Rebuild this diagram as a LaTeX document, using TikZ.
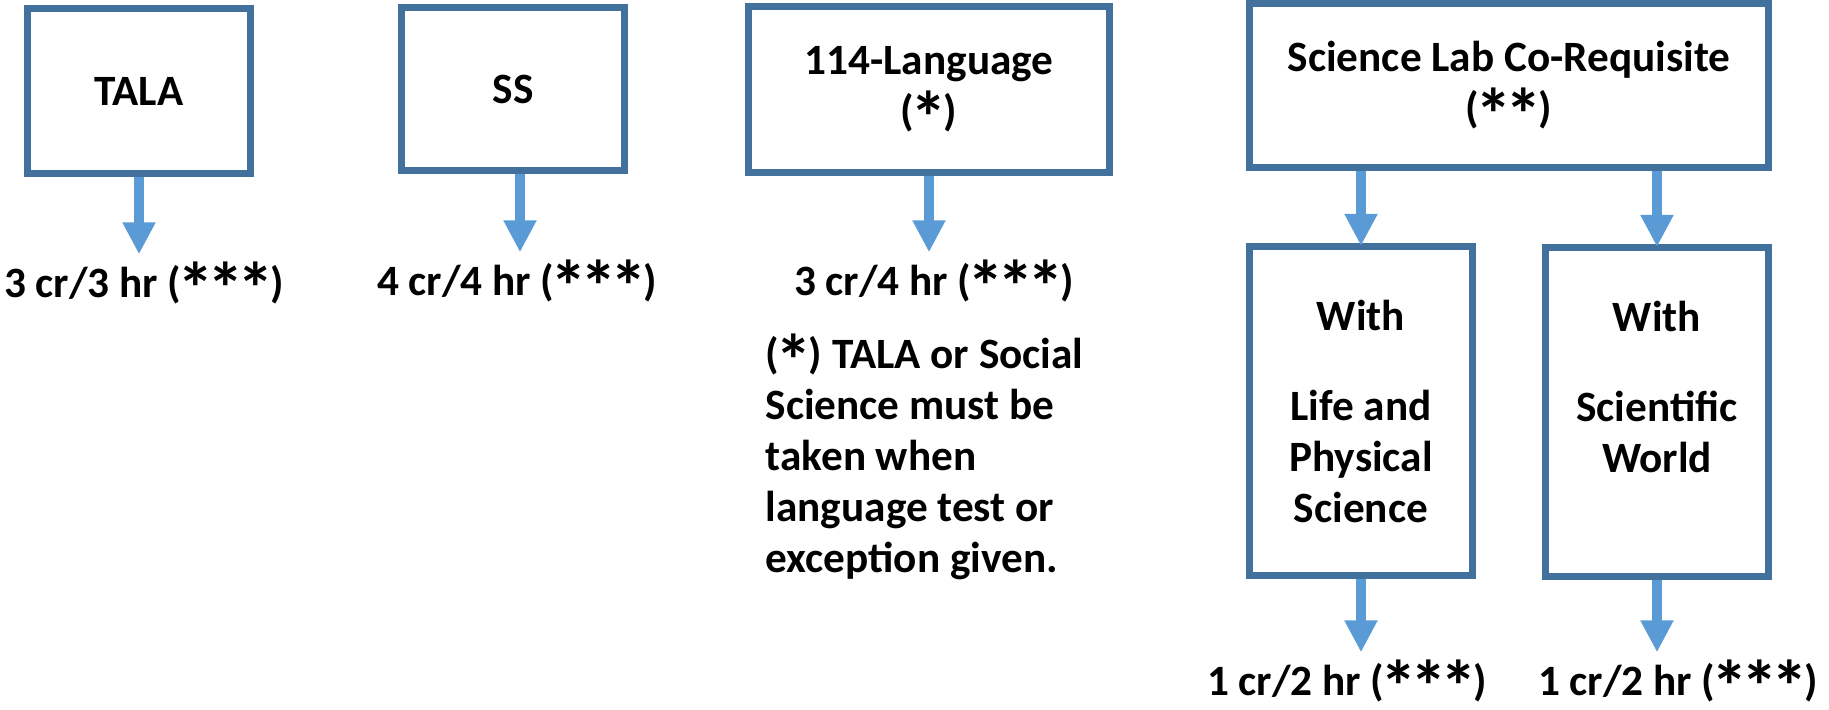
\documentclass[tikz,border=0pt]{standalone}
\usepackage{fontspec}
\usepackage{graphicx}
\setmainfont{Carlito}
\usetikzlibrary{positioning}
\usetikzlibrary{arrows.meta}
\definecolor{boxblue}{HTML}{41719C}
\definecolor{flowblue}{HTML}{5B9BD5}
\newcommand{\labstar}{\kern-0.08em\raisebox{-0.4em}[0.5em][0pt]{\scalebox{1.7}{*}}\kern-0.08em}

\begin{document}
\begin{tikzpicture}[x=0.01cm,y=-0.01cm,
    every node/.style={font=\bfseries\fontsize{12.3}{14.5}\selectfont, inner sep=0pt},
    course/.style={draw=boxblue, line width=0.075cm, align=center, minimum width=2.225cm},
    credit/.style={anchor=base},
    flow/.style={flowblue, line width=0.1cm, shorten >=0.1cm, -{Triangle[length=0.32cm,width=0.31cm]}}]
    \useasboundingbox (0,0) rectangle (1829,710);
    \node[course, minimum height=1.645cm] (tala) at (139,91) {TALA};
    \node[course, minimum height=1.625cm] (ss) at (513,89) {SS};
    \node[course, minimum width=3.605cm, minimum height=1.655cm] (lang) at (929,89.5) {114-Language\\(\labstar)};
    \node[course, minimum width=5.185cm, minimum height=1.635cm] (lab) at (1509,85.5) {Science Lab Co-Requisite\\(\labstar\labstar)};
    \node[course, minimum height=3.285cm] (life) at (1361,411) {With\\[0.39cm]Life and\\Physical\\Science};
    \node[course, minimum height=3.285cm] (world) at (1657,412) {With\\[0.39cm]Scientific\\World\\\mbox{}};
    \node[below=1.20cm of tala, xshift=0.05cm, credit] (talacr) {3 cr/3 hr (\labstar\labstar\labstar)};
    \node[below=1.21cm of ss, xshift=0.04cm, credit] (sscr) {4 cr/4 hr (\labstar\labstar\labstar)};
    \node[below=1.19cm of lang, xshift=0.05cm, credit] (langcr) {3 cr/4 hr (\labstar\labstar\labstar)};
    \node[below=1.16cm of life, xshift=-0.14cm, credit] (lifecr) {1 cr/2 hr (\labstar\labstar\labstar)};
    \node[below=1.15cm of world, xshift=0.21cm, credit] (worldcr) {1 cr/2 hr (\labstar\labstar\labstar)};
    \node[anchor=north west, align=left] (note) at (765,336) {(\labstar) TALA or Social\\Science must be\\taken when\\language test or\\exception given.};
    \draw[flow] (tala.south) -- (tala.south |- talacr.north);
    \draw[flow] ([xshift=0.07cm]ss.south) -- ([xshift=0.07cm]ss.south |- sscr.north);
    \draw[flow] (lang.south) -- (lang.south |- langcr.north);
    \draw[flow, shorten >=-0.03cm] (life.north |- lab.south) -- (life.north);
    \draw[flow, shorten >=-0.03cm] (world.north |- lab.south) -- (world.north);
    \draw[flow] (life.south) -- (life.south |- lifecr.north);
    \draw[flow] (world.south) -- (world.south |- worldcr.north);
\end{tikzpicture}
\end{document}
